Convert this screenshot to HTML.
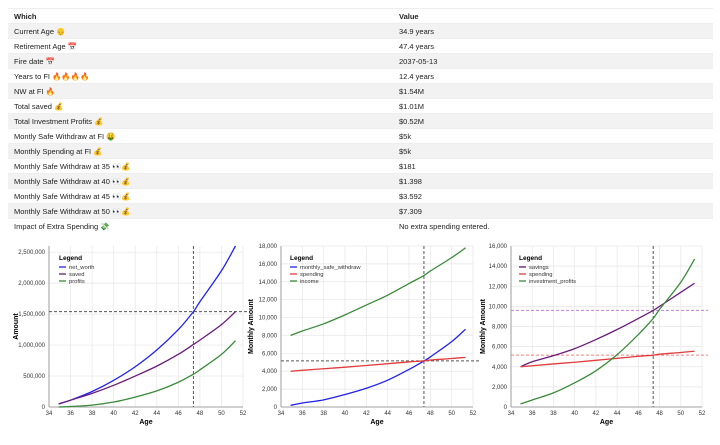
<!DOCTYPE html>
<html><head><meta charset="utf-8"><style>
body{margin:0;width:720px;height:445px;background:#fff;font-family:"Liberation Sans","Noto Sans CJK JP",sans-serif;overflow:hidden}
#tbl{position:absolute;left:8px;top:8px;width:705px;font-size:7.5px;color:#222}
.r{position:relative;height:15px;line-height:15px;border-top:1px solid #eee;box-sizing:border-box;overflow:hidden;white-space:nowrap}
.r:nth-child(even){background:#f2f2f2}
.r span{position:absolute;top:0}
.c1{left:6px}.c2{left:391px}
.h{font-weight:bold}
svg{position:absolute;left:0;top:0}
text{font-family:"Liberation Sans",sans-serif}
</style></head><body>
<div id="tbl">
<div class="r h"><span class="c1">Which</span><span class="c2">Value</span></div>
<div class="r"><span class="c1">Current Age 👴</span><span class="c2">34.9 years</span></div>
<div class="r"><span class="c1">Retirement Age 📅</span><span class="c2">47.4 years</span></div>
<div class="r"><span class="c1">Fire date 📅</span><span class="c2">2037-05-13</span></div>
<div class="r"><span class="c1">Years to FI 🔥🔥🔥🔥</span><span class="c2">12.4 years</span></div>
<div class="r"><span class="c1">NW at FI 🔥</span><span class="c2">$1.54M</span></div>
<div class="r"><span class="c1">Total saved 💰</span><span class="c2">$1.01M</span></div>
<div class="r"><span class="c1">Total Investment Profits 💰</span><span class="c2">$0.52M</span></div>
<div class="r"><span class="c1">Montly Safe Withdraw at FI 🤑</span><span class="c2">$5k</span></div>
<div class="r"><span class="c1">Monthly Spending at FI 💰</span><span class="c2">$5k</span></div>
<div class="r"><span class="c1">Monthly Safe Withdraw at 35 👀💰</span><span class="c2">$181</span></div>
<div class="r"><span class="c1">Monthly Safe Withdraw at 40 👀💰</span><span class="c2">$1.398</span></div>
<div class="r"><span class="c1">Monthly Safe Withdraw at 45 👀💰</span><span class="c2">$3.592</span></div>
<div class="r"><span class="c1">Monthly Safe Withdraw at 50 👀💰</span><span class="c2">$7.309</span></div>
<div class="r"><span class="c1">Impact of Extra Spending 💸</span><span class="c2">No extra spending entered.</span></div>
</div>
<svg id="s" width="720" height="445"></svg>
<script>
const ages=[34.9,36,38,40,42,44,46,47.4,48,50,51.3];
const netWorth=[50000,110000,250000,430000,650000,920000,1250000,1540000,1700000,2200000,2600000];
const saved=[50000,110000,220000,350000,500000,660000,850000,1010000,1080000,1330000,1540000];
const profits=[0,8000,30000,80000,160000,260000,400000,530000,600000,850000,1070000];
const msw=[181,450,800,1398,2100,3000,4200,5150,5600,7309,8700];
const spending=[4000,4100,4280,4450,4640,4840,5040,5150,5250,5420,5550];
const income=[8000,8500,9300,10300,11400,12500,13800,14700,15200,16700,17800];
const savings=[4000,4500,5100,5800,6700,7700,8800,9600,10000,11400,12300];
const invProfits=[300,700,1400,2400,3600,5200,7200,8800,9700,12400,14700];
const xTicks=[34,36,38,40,42,44,46,48,50,52];
const fiAge=47.4;
const S=document.getElementById('s');const NS='http://www.w3.org/2000/svg';
function el(t,a,p){const e=document.createElementNS(NS,t);for(const k in a)e.setAttribute(k,a[k]);(p||S).appendChild(e);return e;}
function smooth(pts){let d='M'+pts[0][0]+','+pts[0][1];
 for(let i=0;i<pts.length-1;i++){const p0=pts[Math.max(0,i-1)],p1=pts[i],p2=pts[i+1],p3=pts[Math.min(pts.length-1,i+2)];
  const c1=[p1[0]+(p2[0]-p0[0])/6,p1[1]+(p2[1]-p0[1])/6],c2=[p2[0]-(p3[0]-p1[0])/6,p2[1]-(p3[1]-p1[1])/6];
  d+=`C${c1[0]},${c1[1]} ${c2[0]},${c2[1]} ${p2[0]},${p2[1]}`;}
 return d;}
function chart(cfg){
 const g=el('g',{});
 
 
 const X=v=>cfg.x0+(v-34)/18*(cfg.x1-cfg.x0);
 const Y=v=>407-v/cfg.ymax*(407-cfg.ytop);
 cfg.yTicks.forEach(t=>{const l=el('line',{x1:cfg.x0,x2:cfg.x1,y1:Y(t),y2:Y(t),stroke:'#e6e6e6','stroke-width':0.7},g);
  
  const tx=el('text',{x:cfg.x0-4,y:Y(t)+2,'font-size':6,'text-anchor':'end',fill:'#333'},g);tx.textContent=t.toLocaleString('en-US');
  });
 xTicks.forEach(t=>{const l=el('line',{x1:X(t),x2:X(t),y1:cfg.ytop,y2:407,stroke:'#e6e6e6','stroke-width':0.7},g);
  
  const tx=el('text',{x:X(t),y:415,'font-size':6,'text-anchor':'middle',fill:'#333'},g);tx.textContent=t;
  });
 const ax=el('line',{x1:cfg.x0,x2:cfg.x1,y1:407,y2:407,stroke:'#888','stroke-width':0.8},g);
 
 const ay=el('line',{x1:cfg.x0,x2:cfg.x0,y1:cfg.ytop,y2:407,stroke:'#888','stroke-width':0.8},g);
 
 const xt=el('text',{x:(cfg.x0+cfg.x1)/2,y:424,'font-size':7,'font-weight':'bold','text-anchor':'middle'},g);xt.textContent='Age';
 
 const yt=el('text',{x:0,y:0,'font-size':7,'font-weight':'bold','text-anchor':'middle',transform:`translate(${cfg.ytx},${(cfg.ytop+407)/2}) rotate(-90)`},g);yt.textContent=cfg.ytitle;
 
 cfg.hlines.forEach(h=>{const l=el('line',{x1:cfg.x0,x2:cfg.x1+6,y1:Y(h.v),y2:Y(h.v),stroke:h.c,'stroke-width':1,'stroke-dasharray':'3,2'},g);
  });
 const vl=el('line',{x1:X(fiAge),x2:X(fiAge),y1:cfg.ytop,y2:407,stroke:'#555','stroke-width':1,'stroke-dasharray':'3,2'},g);
 
 cfg.series.forEach((s,i)=>{
  const p=el('path',{d:smooth(ages.map((a,j)=>[X(a),Y(s.d[j])])),fill:'none',stroke:s.c,'stroke-width':1.3},g);
  
  const ly=cfg.ytop+21+i*7;
  const lm=el('line',{x1:cfg.lx,x2:cfg.lx+7,y1:ly,y2:ly,stroke:s.c,'stroke-width':1.3},g);
  
  const lt=el('text',{x:cfg.lx+10,y:ly+2,'font-size':5.8,fill:'#333'},g);lt.textContent=s.n;
  
 });
 const lg=el('text',{x:cfg.lx,y:cfg.ytop+14,'font-size':6.5,'font-weight':'bold'},g);lg.textContent='Legend';
 
}
chart({name:'net-worth-chart',x0:49,x1:243,ytop:246,ymax:2600000,yTicks:[0,500000,1000000,1500000,2000000,2500000],ytitle:'Amount',ytx:18,lx:59,
 hlines:[{v:1540000,c:'#555'}],series:[{n:'net_worth',c:'#2222ee',d:netWorth},{n:'saved',c:'#6a1b7a',d:saved},{n:'profits',c:'#3a8a3a',d:profits}]});
chart({name:'monthly-withdraw-chart',x0:281,x1:473,ytop:246,ymax:18000,yTicks:[0,2000,4000,6000,8000,10000,12000,14000,16000,18000],ytitle:'Monthly Amount',ytx:253,lx:290,
 hlines:[{v:5150,c:'#555'}],series:[{n:'monthly_safe_withdraw',c:'#2222ee',d:msw},{n:'spending',c:'#e23c3c',d:spending},{n:'income',c:'#3a8a3a',d:income}]});
chart({name:'monthly-savings-chart',x0:511,x1:702,ytop:246,ymax:16000,yTicks:[0,2000,4000,6000,8000,10000,12000,14000,16000],ytitle:'Monthly Amount',ytx:485,lx:519,
 hlines:[{v:9600,c:'#c77ddb'},{v:5150,c:'#f08080'}],series:[{n:'savings',c:'#6a1b7a',d:savings},{n:'spending',c:'#e23c3c',d:spending},{n:'investment_profits',c:'#3a8a3a',d:invProfits}]});
</script>
</body></html>
